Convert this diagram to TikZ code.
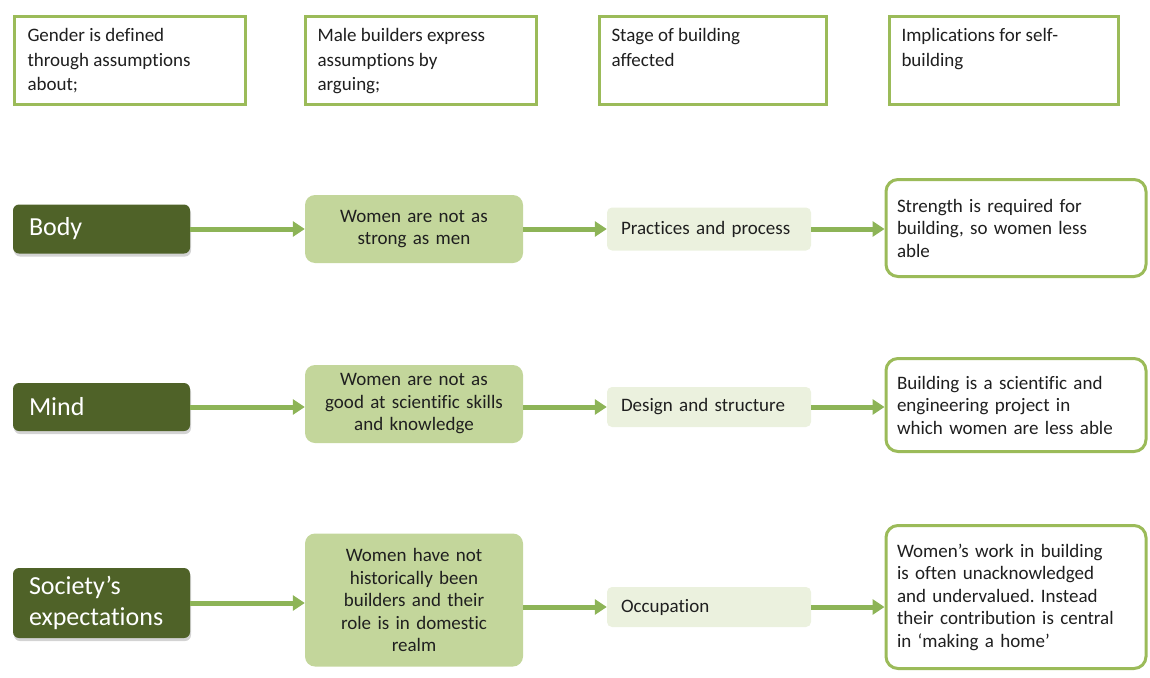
\documentclass[tikz,border=0pt]{standalone}
\usepackage{fontspec}
\setmainfont{Carlito}[Ligatures=NoCommon]
\usetikzlibrary{arrows.meta,shadows}
\definecolor{olivedark}{HTML}{4F6228}
\definecolor{olivemid}{HTML}{C3D69B}
\definecolor{olivepale}{HTML}{EBF1DE}
\definecolor{oliveline}{HTML}{9BBB59}
\definecolor{arrowgreen}{HTML}{8DB457}
\definecolor{textgrey}{HTML}{1F1F1F}
\frenchspacing

\begin{document}
\begin{tikzpicture}[x=1pt,y=-1pt,
        headbox/.style={draw=oliveline, line width=3pt, fill=white, anchor=north west,
            inner sep=0pt, minimum height=88pt, text=textgrey, font=\fontsize{19}{24.5}\selectfont},
        theme/.style={fill=olivedark, rounded corners=6pt, text=white, text width=145pt,
            inner xsep=16pt, align=left, font=\fontsize{26}{31}\selectfont,
            drop shadow={shadow xshift=1pt, shadow yshift=-3pt, opacity=0.35}},
        claim/.style={fill=olivemid, rounded corners=10pt, text=textgrey, text width=204pt,
            inner xsep=7pt, align=center, font=\fontsize{19}{22.5}\selectfont},
        stage/.style={fill=olivepale, rounded corners=5pt, text=textgrey, text width=176pt,
            inner xsep=14pt, align=left, font=\fontsize{19}{22.5}\selectfont},
        outcome/.style={draw=oliveline, line width=3pt, fill=white, rounded corners=12pt,
            text=textgrey, text width=238pt, inner xsep=11pt, align=left,
            font=\fontsize{19}{22.5}\selectfont},
        flow/.style={draw=arrowgreen, line width=5pt, -{Triangle[length=12pt,width=15pt]}}]

    \useasboundingbox (0,0) rectangle (1150,677);

    % column headings
    \node[headbox, minimum width=231pt] (hgender) at (13,15)
        {\parbox[c][64pt][t]{205pt}{\raggedright Gender is defined\\through assumptions\\about;}};
    \node[headbox, minimum width=231pt] (hargue) at (304,15)
        {\parbox[c][64pt][t]{207pt}{\raggedright Male builders express\\assumptions by\\arguing;}};
    \node[headbox, minimum width=227pt] (hstage) at (598,15)
        {\parbox[c][64pt][t]{203pt}{\raggedright Stage of building\\affected}};
    \node[headbox, minimum width=229pt] (himpl) at (888,15)
        {\parbox[c][64pt][t]{205pt}{\raggedright Implications for self-\\building}};

    % body
    \node[theme, minimum height=49pt] (body) at (101.5,229) {Body};
    \node[claim, minimum height=68pt] (strong) at (414,229) {Women are not as\\strong as men};
    \node[stage, minimum height=43pt] (practice) at (709,229) {Practices and process};
    \node[outcome, minimum height=97pt] (strength) at (1016,228)
        {Strength is required for\\building, so women less\\able};

    % mind
    \node[theme, minimum height=48pt] (mind) at (101.5,407) {Mind};
    \node[claim, minimum height=78pt] (skills) at (414,404)
        {Women are not as\\good at scientific skills\\and knowledge};
    \node[stage, minimum height=40pt] (design) at (709,407) {Design and structure};
    \node[outcome, minimum height=93pt] (science) at (1016,405)
        {Building is a scientific and\\engineering project in\\which women are less able};

    % society
    \node[theme, minimum height=70pt] (society) at (101.5,603) {Society’s\\expectations};
    \node[claim, minimum height=133pt] (history) at (414,600)
        {Women have not\\historically been\\builders and their\\role is in domestic\\realm};
    \node[stage, minimum height=40pt] (occupation) at (709,607) {Occupation};
    \node[outcome, minimum height=143pt] (home) at (1016,597)
        {Women’s work in building\\is often unacknowledged\\and undervalued. Instead\\their contribution is central\\in ‘making a home’};

    \draw[flow] (body) -- (body -| strong.west);
    \draw[flow] (strong) -- (strong -| practice.west);
    \draw[flow] (practice) -- (practice -| strength.west);

    \draw[flow] (mind) -- (mind -| skills.west);
    \draw[flow] (skills.east |- design) -- (design);
    \draw[flow] (design) -- (design -| science.west);

    \draw[flow] (society) -- (society -| history.west);
    \draw[flow] (history.east |- occupation) -- (occupation);
    \draw[flow] (occupation) -- (occupation -| home.west);
\end{tikzpicture}
\end{document}
